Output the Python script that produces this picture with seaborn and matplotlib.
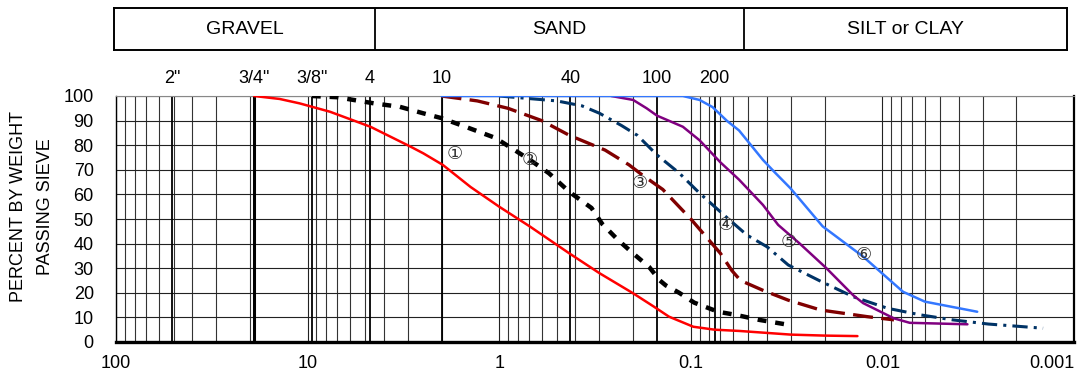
import matplotlib
matplotlib.use("Agg")
import matplotlib.pyplot as plt
from matplotlib.ticker import LogLocator, FixedLocator, FixedFormatter, NullFormatter
import seaborn as sns
import pandas as pd

# ---------------- data ----------------
c1_mm = [19.0, 14.0, 11.0, 7.64, 4.7, 2.9, 2.49, 1.97, 1.41, 1.0, 0.69, 0.43, 0.30,
         0.20, 0.156, 0.13, 0.097, 0.075, 0.056, 0.03, 0.02, 0.0135]
c1_pct = [100, 98.8, 97, 93.6, 87.5, 79.4, 76.7, 72, 63, 55, 46.9, 36, 28,
          19.8, 14.4, 10.3, 6.2, 5.0, 4.5, 3.0, 2.6, 2.4]

c2_mm = [9.5, 7.0, 4.5, 3.3, 2.5, 2.0, 1.5, 1.05, 0.87, 0.69, 0.55, 0.43, 0.33, 0.29, 0.24,
         0.20, 0.165, 0.145, 0.135, 0.115, 0.096, 0.072, 0.058, 0.044, 0.031]
c2_pct = [100, 99.5, 97, 95.6, 93, 91, 87.5, 83, 79, 74, 68.6, 61, 54.5, 48, 41.5,
          36, 30.5, 25, 23, 20, 16, 12.3, 11, 9, 7]

c3_mm = [2.0, 1.3, 0.9, 0.6, 0.43, 0.28, 0.21, 0.18, 0.14, 0.10, 0.07, 0.061, 0.055, 0.042,
         0.031, 0.021, 0.012, 0.0087]
c3_pct = [100, 98, 95, 90, 84, 78, 72, 68, 62, 50, 36, 29, 25, 21, 17, 13, 10.3, 9]

c4_mm = [1.0, 0.5, 0.37, 0.30, 0.23, 0.19, 0.15, 0.115, 0.09, 0.068, 0.051, 0.040, 0.031,
         0.0214, 0.0142, 0.0094, 0.0063, 0.0043, 0.0028, 0.00145]
c4_pct = [100, 98, 96, 93, 88, 84, 76, 68.7, 60.5, 52, 43.5, 38.7, 31.3, 25, 18.4, 13.7,
          11, 9, 7.3, 5.6]

c5_mm = [0.26, 0.20, 0.17, 0.15, 0.11, 0.09, 0.07, 0.056, 0.042, 0.035, 0.027, 0.0196,
         0.0142, 0.0126, 0.0087, 0.0072, 0.0036]
c5_pct = [100, 98.4, 95, 92, 87.5, 82, 73, 66, 55.7, 47.6, 40, 30, 19, 15.8, 9.6, 7.8, 7.2]

c6_mm = [2.0, 0.11, 0.09, 0.077, 0.065, 0.056, 0.042, 0.0365, 0.0302, 0.0205, 0.0126,
         0.0078, 0.006, 0.0032]
c6_pct = [100, 100, 98.4, 95.5, 90, 86, 74, 69, 62.5, 47, 34.7, 20.4, 16.4, 12.3]

curve_labels = ["①", "②", "③", "④", "⑤", "⑥"]
label_mm = [1.70, 0.69, 0.184, 0.066, 0.0307, 0.0125]
label_pct = [76.4, 74, 64.6, 47.6, 40.7, 35.4]

sieve_names = ['2"', '3/4"', '3/8"', "4", "10", "40", "100", "200"]
sieve_mm = [50.8, 19.05, 9.525, 4.75, 2.0, 0.425, 0.15, 0.075]

xtick_vals = [100, 10, 1, 0.1, 0.01, 0.001]
xtick_labels = ["100", "10", "1", "0.1", "0.01", "0.001"]
ytick_vals = list(range(0, 101, 10))

bands = ["GRAVEL", "SAND", "SILT or CLAY"]

# ---------------- style ----------------
sns.set_theme(style="white")
plt.rcParams["font.family"] = ["Liberation Sans", "DejaVu Sans"]

fig = plt.figure(figsize=(10.8, 3.71), dpi=100)
ax = fig.add_axes([116 / 1080, 1 - 342 / 371, (1074 - 116) / 1080, (342 - 96) / 371])

ax.set_xscale("log")
ax.set_xlim(100, 0.001)
ax.set_ylim(0, 100)

ax.xaxis.set_major_locator(FixedLocator(xtick_vals))
ax.xaxis.set_major_formatter(FixedFormatter(xtick_labels))
ax.xaxis.set_minor_locator(LogLocator(base=10, subs=range(2, 10), numticks=50))
ax.xaxis.set_minor_formatter(NullFormatter())
ax.set_yticks(ytick_vals)

ax.set_axisbelow(True)
ax.grid(which="major", axis="both", color="#222222", linewidth=0.8)
ax.grid(which="minor", axis="x", color="#333333", linewidth=0.8)
ax.tick_params(axis="both", which="both", length=0)
ax.tick_params(axis="y", pad=16, labelsize=13, labelcolor="black")
ax.tick_params(axis="x", pad=9, labelsize=13, labelcolor="black")

for sp, lw in [("bottom", 2.4), ("right", 1.6), ("left", 1.0), ("top", 0.8)]:
    ax.spines[sp].set_visible(True)
    ax.spines[sp].set_linewidth(lw)
    ax.spines[sp].set_color("black" if sp != "top" else "#888888")

# sieve lines
for name, mm in zip(sieve_names, sieve_mm):
    ax.axvline(mm, color="black", linewidth=2.2 if name == '3/4"' else 1.3, zorder=1.5)
    ax.text(mm, 1.073, name, transform=ax.get_xaxis_transform(), ha="center",
            va="center", fontsize=13, color="black")

# curves
series = [
    (c1_mm, c1_pct, "#ff0000", 1.8, "-"),
    (c2_mm, c2_pct, "#000000", 3.2, (0, (2, 2))),
    (c3_mm, c3_pct, "#800000", 2.4, (0, (6, 2.5))),
    (c4_mm, c4_pct, "#003366", 2.2, (0, (5, 2, 1, 2))),
    (c5_mm, c5_pct, "#800080", 1.8, "-"),
    (c6_mm, c6_pct, "#3377ff", 1.8, "-"),
]
for mm, pct, col, lw, ls in series:
    df = pd.DataFrame({"mm": mm, "pct": pct})
    sns.lineplot(data=df, x="mm", y="pct", ax=ax, color=col, linewidth=lw,
                 linestyle=ls, sort=False, estimator=None, zorder=3)

for lab, x, y in zip(curve_labels, label_mm, label_pct):
    ax.text(x, y, lab, ha="center", va="center", fontsize=13,
            family=["DejaVu Sans"], color="#333333", zorder=4)

ax.set_xlabel("")
ax.set_ylabel("")
for lbl in ax.get_xticklabels():
    if lbl.get_text() == xtick_labels[-1]:
        lbl.set_horizontalalignment("right")

fig.text(32 / 1080, 1 - 207 / 371, "PERCENT BY WEIGHT\nPASSING SIEVE", rotation=90,
         ha="center", va="center", fontsize=13, color="black", linespacing=1.75,
         multialignment="center")

# classification band
bax = fig.add_axes([114 / 1080, 1 - 50 / 371, (1067 - 114) / 1080, 42 / 371])
bax.set_xlim(0, 1)
bax.set_ylim(0, 1)
bax.set_xticks([])
bax.set_yticks([])
for sp in bax.spines.values():
    sp.set_visible(True)
    sp.set_color("black")
    sp.set_linewidth(1.4)
edges = [0, 0.274, 0.661, 1]
for e in edges[1:-1]:
    bax.axvline(e, color="black", linewidth=1.3)
for i, name in enumerate(bands):
    bax.text((edges[i] + edges[i + 1]) / 2, 0.5, name, ha="center", va="center",
             fontsize=14, color="black")

fig.savefig("out.png", dpi=100)
